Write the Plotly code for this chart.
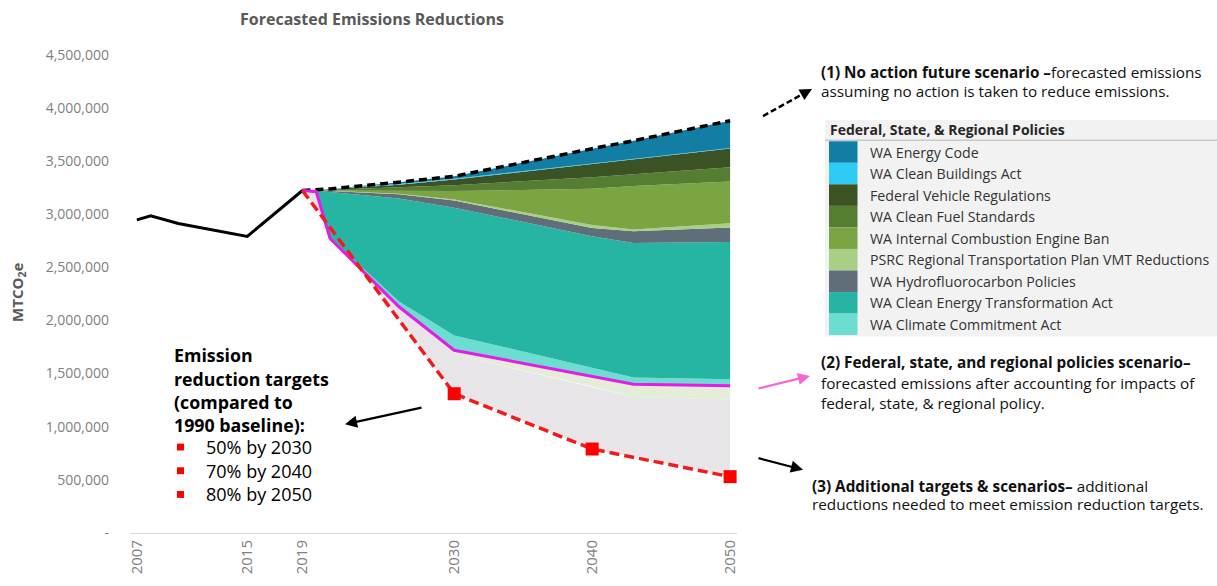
import plotly.graph_objects as go

# ---------------- data ----------------
hist_years = [2007, 2008, 2010, 2012, 2015, 2019]
hist_vals = [2946000, 2983000, 2912000, 2862000, 2790000, 3222000]

fc_years = [2019, 2020, 2021, 2026, 2030, 2040, 2043, 2050]
no_action = [3222000, 3228000, 3237000, 3300000, 3355000, 3615000, 3690000, 3878000]
policy = [3222000, 3210000, 2770000, 2128000, 1719000, 1477000, 1400000, 1385000]

# policy wedges (bottom -> top)
cca = [0, 2000, 10000, 50000, 140000, 80000, 62000, 62000]
ceta = [0, 7000, 428000, 968000, 1201000, 1234000, 1267000, 1290000]
hfc = [0, 2000, 10000, 40000, 68000, 77000, 110000, 136000]
psrc = [0, 0, 1000, 6000, 10000, 30000, 16000, 40000]
ice = [0, 1000, 4000, 30000, 78000, 340000, 410000, 394000]
cfs = [0, 2000, 5000, 30000, 56000, 108000, 110000, 133000]
fvr = [0, 2000, 5000, 25000, 53000, 124000, 140000, 177000]
cb = [0, 1000, 2000, 8000, 8000, 5000, 5000, 5000]
ec = [0, 1000, 2000, 15000, 22000, 140000, 170000, 256000]

pale = [0, 0, 0, 0, 40000, 100000, 120000, 130000]

target_years = [2019, 2030, 2040, 2050]
target = [3222000, 1310000, 790000, 530000]

legend_labels = ["WA Energy Code", "WA Clean Buildings Act", "Federal Vehicle Regulations",
                 "WA Clean Fuel Standards", "WA Internal Combustion Engine Ban",
                 "PSRC Regional Transportation Plan VMT Reductions", "WA Hydrofluorocarbon Policies",
                 "WA Clean Energy Transformation Act", "WA Climate Commitment Act"]
legend_colors = ["#137EA4", "#2ECBF4", "#3B5224", "#567E33", "#7AA542",
                 "#A9CF87", "#5F6E79", "#27B5A3", "#6CDDD0"]

x_ticks = [2007, 2015, 2019, 2030, 2040, 2050]
y_ticks = [0, 500000, 1000000, 1500000, 2000000, 2500000, 3000000, 3500000, 4000000, 4500000]

# ---------------- layout geometry ----------------
W, H = 1217, 586
L, R, T, B = 130, 737, 40, 539
FONT = "Open Sans"
PAD = 3  # annotation inner padding


def px(x):
    return (x - L) / (R - L)


def py(y):
    return (B - y) / (B - T)


fig = go.Figure()

# additional reductions (gray) area: between targets and the pale band bottom
pale_bottom = [p - q for p, q in zip(policy, pale)]
fig.add_trace(go.Scatter(
    x=fc_years + target_years[::-1], y=pale_bottom + target[::-1],
    fill="toself", fillcolor="#E7E5E8", line=dict(width=0), mode="lines",
    showlegend=False, hoverinfo="skip"))
# pale band under the policy line
fig.add_trace(go.Scatter(
    x=fc_years + fc_years[::-1], y=policy + pale_bottom[::-1],
    fill="toself", fillcolor="#E3EDD8", line=dict(width=0), mode="lines",
    showlegend=False, hoverinfo="skip"))

# stacked policy wedges
fig.add_trace(go.Scatter(x=fc_years, y=policy, stackgroup="s", mode="lines",
                         line=dict(width=0), fillcolor="rgba(0,0,0,0)",
                         showlegend=False, hoverinfo="skip"))
wedges = [cca, ceta, hfc, psrc, ice, cfs, fvr, cb, ec]
wedge_names = legend_labels[::-1]
wedge_colors = legend_colors[::-1]
for vals, name, col in zip(wedges, wedge_names, wedge_colors):
    fig.add_trace(go.Scatter(x=fc_years, y=vals, stackgroup="s", mode="lines",
                             line=dict(width=0, color=col), fillcolor=col,
                             name=name, showlegend=False))

# historical
fig.add_trace(go.Scatter(x=hist_years, y=hist_vals, mode="lines",
                         line=dict(color="black", width=3), showlegend=False))
# no action
fig.add_trace(go.Scatter(x=fc_years, y=no_action, mode="lines",
                         line=dict(color="black", width=3.5, dash="8px,5px"),
                         showlegend=False))
# policies scenario
fig.add_trace(go.Scatter(x=fc_years, y=policy, mode="lines",
                         line=dict(color="#E61CE6", width=3), showlegend=False))
# targets
fig.add_trace(go.Scatter(x=target_years, y=target, mode="lines",
                         line=dict(color="#F21B1B", width=3.5, dash="10px,5px"),
                         showlegend=False))
fig.add_trace(go.Scatter(x=target_years[1:], y=target[1:], mode="markers",
                         marker=dict(symbol="square", size=13, color="#FF0000", opacity=1,
                                     line=dict(width=0)),
                         showlegend=False))

shapes = []
annotations = []

# title
annotations.append(dict(x=px(372), y=py(19), xref="paper", yref="paper",
                        xanchor="center", yanchor="middle",
                        text="<b>Forecasted Emissions Reductions</b>", showarrow=False,
                        font=dict(family=FONT, size=16, color="#595959")))
# y title
annotations.append(dict(x=px(18), y=py(296), xref="paper", yref="paper",
                        xanchor="center", yanchor="middle",
                        text="<b>MTCO<sub>2</sub>e</b>", showarrow=False, textangle=-90,
                        font=dict(family=FONT, size=15, color="#595959")))

# legend box
shapes.append(dict(type="rect", xref="paper", yref="paper", x0=px(825), x1=px(1217),
                   y0=py(340), y1=py(121), fillcolor="#F2F2F2", line=dict(width=0), layer="below"))
shapes.append(dict(type="line", xref="paper", yref="paper", x0=px(825), x1=px(1217),
                   y0=py(141.5), y1=py(141.5), line=dict(color="#C8C8C8", width=1.5)))
annotations.append(dict(x=px(831 - PAD), y=py(131), xref="paper", yref="paper", xanchor="left",
                        yanchor="middle",
                        text="<b>Federal, State, &amp; Regional Policies</b>", showarrow=False,
                        font=dict(family=FONT, size=14, color="#262626")))
row_h = 21.8
for i, (lab, col) in enumerate(zip(legend_labels, legend_colors)):
    top = 142.5 + i * row_h
    shapes.append(dict(type="rect", xref="paper", yref="paper", x0=px(829), x1=px(857.5),
                       y0=py(top + row_h), y1=py(top), fillcolor=col, line=dict(width=0)))
    annotations.append(dict(x=px(871 - PAD), y=py(top + row_h / 2), xref="paper", yref="paper",
                            xanchor="left", yanchor="middle", text=lab, showarrow=False,
                            font=dict(family=FONT, size=14.2, color="#333333")))


def text_line(x, y, txt, size=15.3, color="#111111"):
    annotations.append(dict(x=px(x - PAD), y=py(y), xref="paper", yref="paper", xanchor="left",
                            yanchor="middle", text=txt, showarrow=False,
                            font=dict(family=FONT, size=size, color=color)))


def arrow(tx, ty, hx, hy, color="black", width=2.2):
    annotations.append(dict(x=px(hx), y=py(hy), xref="paper", yref="paper", text="",
                            showarrow=True, ax=tx - hx, ay=ty - hy, arrowhead=2,
                            arrowsize=1.1, arrowwidth=width, arrowcolor=color))


# (1)
text_line(822, 72, "<b>(1) No action future scenario –</b>forecasted emissions")
text_line(822, 92, "assuming no action is taken to reduce emissions.")
shapes.append(dict(type="line", xref="paper", yref="paper", x0=px(763), y0=py(117),
                   x1=px(804), y1=py(94), line=dict(color="black", width=2.5, dash="6px,3px")))
arrow(803, 94.5, 812, 89.5)

# (2)
text_line(822, 366, "<b>(2) Federal, state, and regional policies scenario–</b>")
text_line(822, 387, "forecasted emissions after accounting for impacts of")
text_line(822, 407, "federal, state, &amp; regional policy.")
arrow(757, 393, 810, 380, color="#F766D2")

# (3)
text_line(813, 491, "<b>(3) Additional targets &amp; scenarios–</b> additional")
text_line(813, 510, "reductions needed to meet emission reduction targets.")
arrow(757, 463, 803, 475)

# targets box
for y, t in zip([359, 383, 406, 430],
                ["Emission", "reduction targets", "(compared to", "1990 baseline):"]):
    text_line(175, y, "<b>" + t + "</b>", size=17.8, color="black")
for y, t in zip([452, 476, 500], ["50% by 2030", "70% by 2040", "80% by 2050"]):
    shapes.append(dict(type="rect", xref="paper", yref="paper", x0=px(177), x1=px(184),
                       y0=py(y + 3.5), y1=py(y - 3.5), fillcolor="#FF0000", line=dict(width=0)))
    text_line(207, y, t, size=18, color="black")
arrow(423, 412, 345, 429)

fig.update_layout(
    width=W, height=H,
    margin=dict(l=L, r=W - R, t=T, b=H - B),
    paper_bgcolor="white", plot_bgcolor="white",
    showlegend=False,
    shapes=shapes, annotations=annotations,
    font=dict(family=FONT),
    xaxis=dict(range=[2006.5, 2050.5], tickvals=x_ticks, ticktext=[str(v) for v in x_ticks],
               tickangle=-90, showgrid=False, zeroline=False, showline=True,
               linecolor="#D9D9D9", linewidth=1, ticks="",
               tickfont=dict(family=FONT, size=15, color="#808080")),
    yaxis=dict(range=[0, (B - T) / 53.8 * 500000], tickvals=y_ticks,
               ticktext=["-"] + [f"{v:,}" for v in y_ticks[1:]],
               showgrid=False, zeroline=False, showline=False, ticks="",
               ticklabelstandoff=20,
               tickfont=dict(family=FONT, size=14, color="#808080")),
)

fig.write_html("out.html", config={"displayModeBar": False},
               post_script="document.body.style.margin='0';")
